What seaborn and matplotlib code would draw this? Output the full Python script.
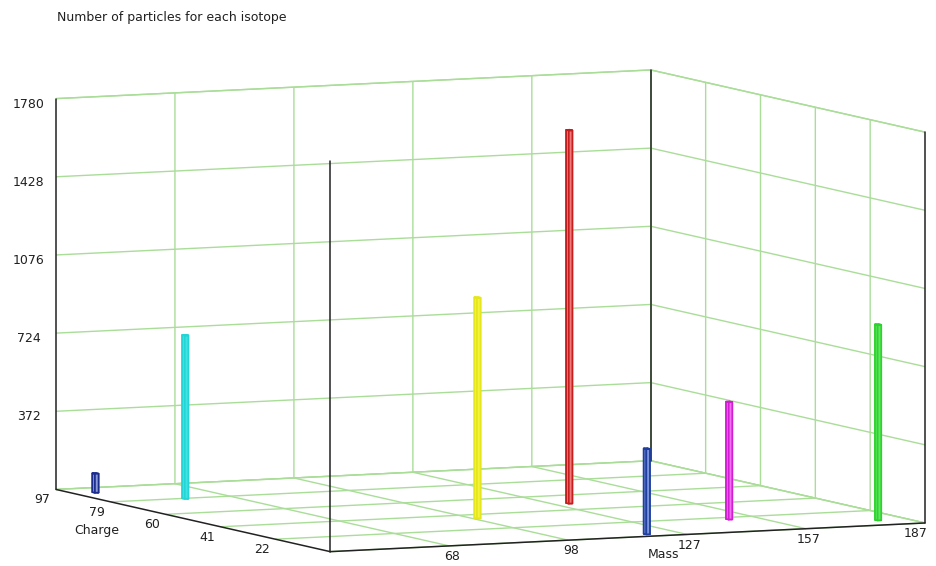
import numpy as np
import matplotlib.pyplot as plt
import seaborn as sns
from mpl_toolkits.mplot3d import proj3d

sns.set_theme(style="white")
plt.rcParams['font.family'] = ['DejaVu Sans']

# ---- values ----
isotope_mass = [43.5, 56.5, 99.0, 131.5, 119.5, 150.0, 180.0]
isotope_charge = [91.0, 78.0, 36.0, 49.0, 6.0, 19.5, 9.5]
particle_count = [105, 755, 1013, 1700, 404, 548, 900]
bar_face = ['#8a9ad8', '#3fe3e3', '#f4f43a', '#f07a7a', '#7b95dc', '#f070f0', '#5fe85f']
bar_edge = ['#1c2c8c', '#25d5d5', '#e6e61e', '#c41e1e', '#1f3e9e', '#d21ed2', '#2ed22e']

mass_ticks = [67.8, 97.6, 127.4, 157.2, 187.0]
mass_labels = ['68', '98', '127', '157', '187']
charge_ticks = [21.8, 40.6, 59.4, 78.2, 97.0]
charge_labels = ['22', '41', '60', '79', '97']
count_ticks = [372, 724, 1076, 1428, 1780]
count_labels = ['372', '724', '1076', '1428', '1780']

mass_lim = (38.0, 187.0)
charge_lim = (3.0, 97.0)
count_lim = (20.0, 1780.0)

GRID = '#a9dd98'
W, H = 936, 566

fig = plt.figure(figsize=(W / 100, H / 100), dpi=100)
ax = fig.add_axes([0, 0, 1, 1], projection='3d', proj_type='ortho')
ax.view_init(elev=6, azim=-114.75)
ax.set_box_aspect((1, 1, 0.6))

ax.set_xlim(*mass_lim)
ax.set_ylim(*charge_lim)
ax.set_zlim(*count_lim)
ax.set_xticks(mass_ticks, mass_labels)
ax.set_yticks(charge_ticks, charge_labels)
ax.set_zticks(count_ticks, count_labels)
ax.tick_params(labelsize=9, colors='#202020')
ax.tick_params(axis='x', pad=-4.5)
ax.tick_params(axis='y', pad=-4.5)

# charge labels sit left of their tick, the last mass label tucks in at the corner
for tick in ax.yaxis.get_major_ticks():
    tick.label1.set_horizontalalignment('right')
ax.xaxis.get_major_ticks()[-1].label1.set_horizontalalignment('right')

for axis in (ax.xaxis, ax.yaxis, ax.zaxis):
    axis.set_pane_color((1, 1, 1, 1))
    axis.pane.set_edgecolor(GRID)
    axis.pane.set_linewidth(1.0)
    axis.line.set_color((0, 0, 0, 0))
    axis.label.set_visible(False)
    axis.offsetText.set_visible(False)
    axis._axinfo['grid'].update(color=GRID, linewidth=1.0, linestyle='-')
    axis._axinfo['tick']['inward_factor'] = 0.0
    axis._axinfo['tick']['outward_factor'] = 0.0
for t in (ax.title, ax._left_title, ax._right_title):
    t.set_visible(False)

# isotope bars
bw, bd = 0.9, 0.9
z0 = count_lim[0]
for m, c, n, fc, ec in zip(isotope_mass, isotope_charge, particle_count, bar_face, bar_edge):
    ax.bar3d(m - bw / 2, c - bd / 2, z0, bw, bd, n - z0,
             color=fc, edgecolor=ec, linewidth=1.2, shade=False)

# black frame edges
m0, m1 = mass_lim
c0, c1 = charge_lim
zz0, zz1 = count_lim
frame = [
    ([m0, m0], [c1, c1], [zz0, zz1]),
    ([m0, m0], [c0, c0], [zz0, zz1]),
    ([m1, m1], [c1, c1], [zz0, zz1]),
    ([m1, m1], [c0, c0], [zz0, zz1]),
    ([m0, m0], [c0, c1], [zz0, zz0]),
    ([m0, m1], [c0, c0], [zz0, zz0]),
]
for xs, ys, zs in frame:
    ax.plot(xs, ys, zs, color='#222222', linewidth=1.1)

ax.text(121.5, c0, -66, 'Mass', ha='center', va='center', fontsize=9, color='#202020')
ax.text(m0, 83, -123, 'Charge', ha='center', va='center', fontsize=9, color='#202020')

fig.text(57 / W, 1 - 18 / H, 'Number of particles for each isotope',
         ha='left', va='center', fontsize=9, color='#202020')

# fit the box onto the reference corners (left, right, front floor, back top)
fig.canvas.draw()
cx = np.array([m0, m1, m0, m1])
cy = np.array([c1, c0, c0, c1])
cz = np.array([zz0, zz0, zz0, zz1])
px, py, _ = proj3d.proj_transform(cx, cy, cz, ax.get_proj())
p = ax.transData.transform(np.column_stack([px, py]))
q = np.array([[56, H - 489], [926, H - 523], [331, H - 552], [649, H - 70]], float)
pm, qm = p.mean(axis=0), q.mean(axis=0)
s = ((p - pm) * (q - qm)).sum() / ((p - pm) ** 2).sum()
t = qm - s * pm
bb = ax.get_position()
centre = np.array([(bb.x0 + bb.x1) / 2 * W, (bb.y0 + bb.y1) / 2 * H])
size = bb.width * W * s
centre = s * centre + t
ax.set_position([(centre[0] - size / 2) / W, (centre[1] - size / 2) / H, size / W, size / H])

fig.savefig('out.png', dpi=100)
